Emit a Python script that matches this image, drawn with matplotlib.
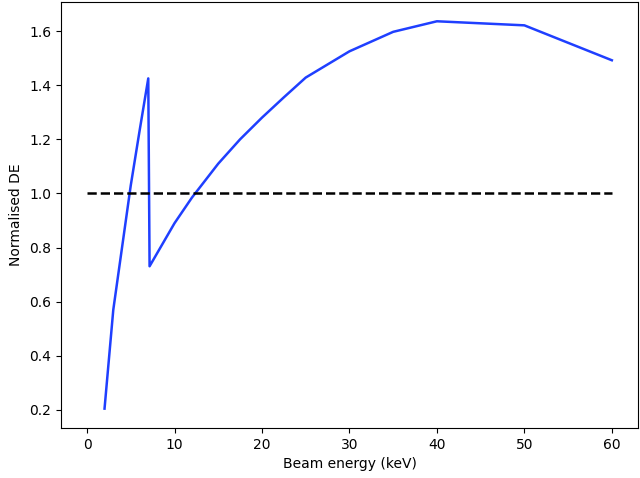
import matplotlib
matplotlib.use('Agg')
import matplotlib.pyplot as plt

# beam energy (keV) and normalised dose enhancement
energy = [2, 3, 4, 5, 6, 7, 7.15, 10, 12, 15, 17.5, 20, 22.5, 25, 30, 35, 40, 50, 60]
norm_de = [0.205, 0.57, 0.80, 1.03, 1.23, 1.425, 0.731, 0.89, 0.985, 1.11,
           1.20, 1.28, 1.355, 1.428, 1.525, 1.597, 1.636, 1.621, 1.492]

ref_x = [0, 60]
ref_y = [1.0, 1.0]

fig = plt.figure(figsize=(6.4, 4.78), dpi=100)
ax = fig.add_axes([0.095, 0.1046, 0.902, 0.8914])

ax.plot(energy, norm_de, color='#1f3fff', linewidth=1.8)
ax.plot(ref_x, ref_y, 'k--', linewidth=1.8)

ax.set_xlabel('Beam energy (keV)')
ax.set_ylabel('Normalised DE')

fig.savefig('out.png', dpi=100)
